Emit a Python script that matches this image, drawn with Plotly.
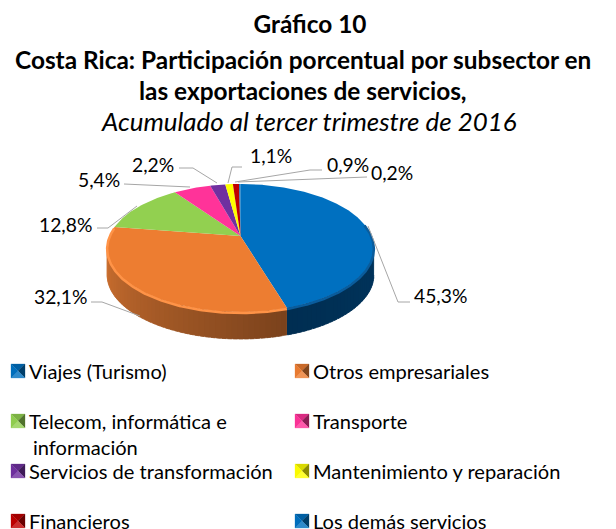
import math
import plotly.graph_objects as go

# ---- data ----
categories = ["Viajes (Turismo)", "Otros empresariales", "Telecom, informática e<br> información",
              "Transporte", "Servicios de transformación", "Mantenimiento y reparación",
              "Financieros", "Los demás servicios"]
values = [45.3, 32.1, 12.8, 5.4, 2.2, 1.1, 0.9, 0.2]
colors = ["#0070C0", "#ED7D31", "#92D050", "#FF3399", "#7030A0", "#FFFF00", "#C00000", "#0070C0"]

title_main = "Gráfico 10"
title_lines = ["Costa Rica: Participación porcentual por subsector en",
               "las exportaciones de servicios,"]
subtitle = "Acumulado al tercer trimestre de 2016"

# ---- layout constants (pixels) ----
W, H, PAGE = 616, 529, 8   # the page's body margin is PAGE px
CX, CY, A, B, P, DEPTH = 240.5, 236.0, 131.0, 61.75, 0.1875, 27.0
FONT = "Lato, Carlito, Calibri, sans-serif"

# (label x, y) and leader paths, one per slice
label_pos = [(440, 295), (60, 296), (65, 224), (99, 179), (153, 164), (271, 155), (348, 164), (392, 172)]
leaders = [
    [(410, 302), (398, 302), (368, 226)],
    [(91, 302), (102, 302), (140, 316)],
    [(97, 228), (108, 228), (137, 206)],
    [(124, 184), (190, 187)],
    [(179, 168), (193, 168), (217, 183)],
    [(242, 167), (232, 167), (228, 183)],
    [(322, 170), (310, 170), (235, 182)],
    [(367, 177), (238, 182)],
]
legend_rows = [371, 371, 421, 421, 471, 471, 521, 521]
legend_cols = [18, 302, 18, 302, 18, 302, 18, 302]
SW = 7  # swatch half size
LEGEND_TEXT_DX = 9


def pt(deg):
    t = math.radians(deg)
    u, v = math.sin(t), -math.cos(t)
    w = 1 - P * v
    return CX + A * u / w, CY + B * v / w


def arc(a0, a1, n=None):
    n = n or max(2, int(abs(a1 - a0) * 1.5))
    return [pt(a0 + (a1 - a0) * i / n) for i in range(n + 1)]


def mix(c0, c1, f):
    return "rgb(%d,%d,%d)" % tuple(round(c0[i] + (c1[i] - c0[i]) * f) for i in range(3))


def rgb(h):
    return tuple(int(h[i:i + 2], 16) for i in (1, 3, 5))


fig = go.Figure()
total = sum(values)
edges = [0.0]
for val in values:
    edges.append(edges[-1] + val / total * 360)

# side wall, gradient strips
RIGHT = math.degrees(math.acos(-P))
LEFT = 360 - RIGHT
side = [(RIGHT, edges[1], (0, 52, 92), (0, 46, 82)),
        (edges[1], LEFT, (122, 66, 28), (205, 112, 48))]
for a0, a1, c0, c1 in side:
    n = max(2, int((a1 - a0) / 2))
    for i in range(n):
        s0 = a0 + (a1 - a0) * i / n
        s1 = min(a0 + (a1 - a0) * (i + 1) / n + 1.5, a1)
        top = arc(s0, s1, 4)
        poly = top + [(x, y + DEPTH) for x, y in reversed(top)]
        col = mix(c0, c1, (i + 0.5) / n)
        fig.add_trace(go.Scatter(
            x=[p[0] for p in poly], y=[p[1] for p in poly], mode="lines", fill="toself",
            fillcolor=col, line=dict(width=0.5, color=col),
            hoverinfo="skip", showlegend=False))

# top face slices
for i, (name, val, col) in enumerate(zip(categories, values, colors)):
    poly = [(CX, CY)] + arc(edges[i], edges[i + 1]) + [(CX, CY)]
    fig.add_trace(go.Scatter(
        x=[p[0] for p in poly], y=[p[1] for p in poly], mode="lines", fill="toself",
        fillcolor=col, line=dict(width=0, color=col), name=name.replace("<br>", ""),
        hoverinfo="name", showlegend=False))

# bevel along the rim
for a0, a1, col, wd in [(edges[1], LEFT + 19, "#FF9347", 2.5), (RIGHT - 22, edges[1], "#0A5C9C", 2.5)]:
    rim = arc(a0, a1)
    fig.add_trace(go.Scatter(x=[p[0] for p in rim], y=[p[1] + 1 for p in rim], mode="lines",
                             line=dict(color=col, width=wd), hoverinfo="skip", showlegend=False))

# leader lines
for path in leaders:
    fig.add_trace(go.Scatter(x=[p[0] for p in path], y=[p[1] for p in path], mode="lines",
                             line=dict(color="#A6A6A6", width=1), hoverinfo="skip", showlegend=False))

# legend swatches, four soft facets each: top, right (darkened), bottom, left (lightened)
facets = [((-1, -1), (1, -1), (0, 0, 0), 0.15), ((1, -1), (1, 1), (0, 0, 0), 0.45),
          ((1, 1), (-1, 1), (255, 255, 255), 0.18), ((-1, 1), (-1, -1), (0, 0, 0), 0.02)]
for col, cx, cy in zip(colors, legend_cols, legend_rows):
    base = rgb(col)
    for p0, p1, target, amount in facets:
        shade = mix(base, target, amount)
        xs = [cx + SW * p0[0], cx + SW * p1[0], cx, cx + SW * p0[0]]
        ys = [cy + SW * p0[1], cy + SW * p1[1], cy, cy + SW * p0[1]]
        fig.add_trace(go.Scatter(x=xs, y=ys, mode="lines", fill="toself", fillcolor=shade,
                                 line=dict(width=0.3, color=shade), hoverinfo="skip", showlegend=False))

annotations = []


def text(x, y, s, size, anchor="center", **font):
    annotations.append(dict(x=x, y=y, xref="x", yref="y", text=s, showarrow=False, xanchor=anchor,
                            yanchor="middle", align="left",
                            font=dict(family=FONT, size=size, color="#000000", **font)))


text(303, 59, "<b>%s</b>" % title_lines[0], 24.4)
text(303, 90, "<b>%s</b>" % title_lines[1], 24.4)
text(309, 121, "<i>%s</i>" % subtitle, 25.9)

for (x, y), val in zip(label_pos, values):
    text(x, y, f"{val:.1f}".replace(".", ",") + "%", 19.3)

for name, x, y in zip(categories, legend_cols, legend_rows):
    parts = name.split("<br>")
    text(x + LEGEND_TEXT_DX, y, parts[0], 20.1, anchor="left")
    if len(parts) > 1:
        text(x + LEGEND_TEXT_DX + 4, y + 26, parts[1].strip(), 20.1, anchor="left")

fig.update_layout(
    width=W - PAGE, height=H - PAGE, autosize=False,
    margin=dict(l=0, r=0, t=0, b=0),
    paper_bgcolor="white", plot_bgcolor="white",
    title=dict(text="<b>%s</b>" % title_main, x=(310 - PAGE) / (W - PAGE), xanchor="center",
               y=1 - (24 - PAGE) / (H - PAGE), yanchor="middle",
               font=dict(family=FONT, size=24.4, color="#000000")),
    xaxis=dict(range=[PAGE, W], visible=False, fixedrange=True),
    yaxis=dict(range=[H, PAGE], visible=False, fixedrange=True),
    annotations=annotations,
    showlegend=False,
)
fig.write_html("out.html", config={"displayModeBar": False})
